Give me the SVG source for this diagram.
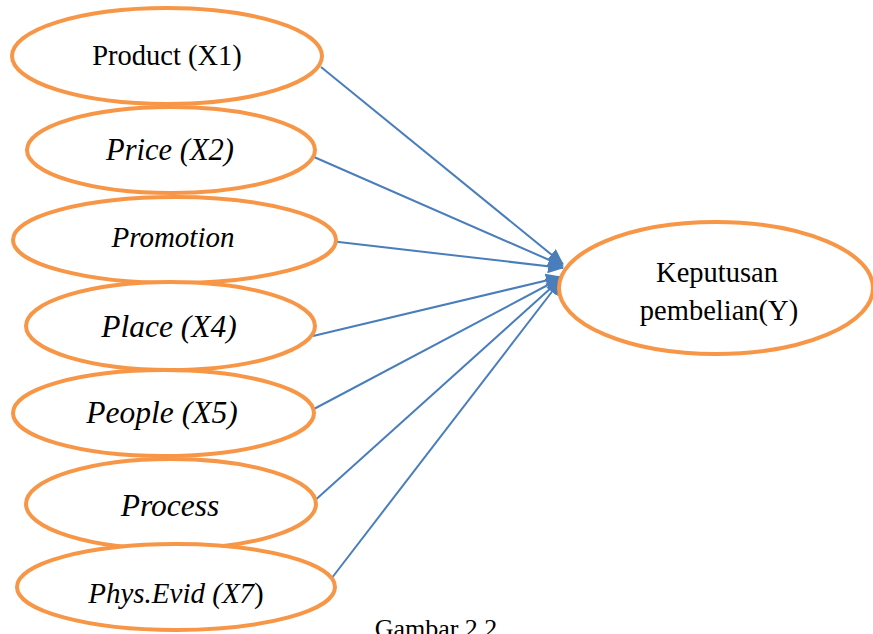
<svg xmlns="http://www.w3.org/2000/svg" width="873" height="634" viewBox="0 0 873 634">
<style>
.n{fill:#fff;stroke:#f79646;stroke-width:4}
.t{font-family:"Liberation Serif","Times New Roman",serif;fill:#000;text-anchor:middle}
.i{font-style:italic}
.c{stroke:#4a7ebb;stroke-width:2;fill:none;marker-end:url(#ah)}
</style>
<defs>
<marker id="ah" markerUnits="userSpaceOnUse" markerWidth="16" markerHeight="14" refX="15" refY="7" orient="auto">
<path d="M0,0 L16,7 L0,14 Z" fill="#4a7ebb"/>
</marker>
</defs>
<rect width="873" height="634" fill="#fff"/>
<g id="connectors">
<line class="c" x1="321" y1="67" x2="563" y2="264"/>
<line class="c" x1="314" y1="157" x2="563" y2="266"/>
<line class="c" x1="330" y1="241" x2="563" y2="268"/>
<line class="c" x1="313" y1="336" x2="561" y2="277"/>
<line class="c" x1="312" y1="410" x2="561" y2="278"/>
<line class="c" x1="312" y1="503" x2="561" y2="279"/>
<line class="c" x1="328" y1="583" x2="561" y2="280"/>
</g>
<g id="product"><ellipse class="n" cx="167" cy="56" rx="155" ry="48"/><text class="t" x="167" y="65" font-size="28.5">Product (X1)</text></g>
<g id="price"><ellipse class="n" cx="171" cy="150" rx="144" ry="43"/><text class="t i" x="170" y="160" font-size="30.5">Price (X2)</text></g>
<g id="promotion"><ellipse class="n" cx="174.5" cy="240" rx="161.5" ry="43"/><text class="t i" x="173" y="247" font-size="29">Promotion</text></g>
<g id="place"><ellipse class="n" cx="170.5" cy="326" rx="144.5" ry="44"/><text class="t i" x="169" y="337" font-size="31.5">Place (X4)</text></g>
<g id="people"><ellipse class="n" cx="163.5" cy="413" rx="150.5" ry="43"/><text class="t i" x="162" y="423" font-size="31.5">People (X5)</text></g>
<g id="process"><ellipse class="n" cx="171" cy="504" rx="145" ry="45"/><text class="t i" x="170" y="516" font-size="31.5">Process</text></g>
<g id="physevid"><ellipse class="n" cx="176" cy="587" rx="159" ry="43"/><text class="t" x="176" y="603" font-size="29"><tspan font-style="italic">Phys.Evid (X7</tspan>)</text></g>
<g id="keputusan"><ellipse class="n" cx="716" cy="288" rx="157" ry="66"/><text class="t" x="717" y="282" font-size="28.5">Keputusan</text><text class="t" x="719" y="320" font-size="28.5">pembelian(Y)</text></g>
<text class="t" x="436" y="637" font-size="26">Gambar 2.2</text>
</svg>
